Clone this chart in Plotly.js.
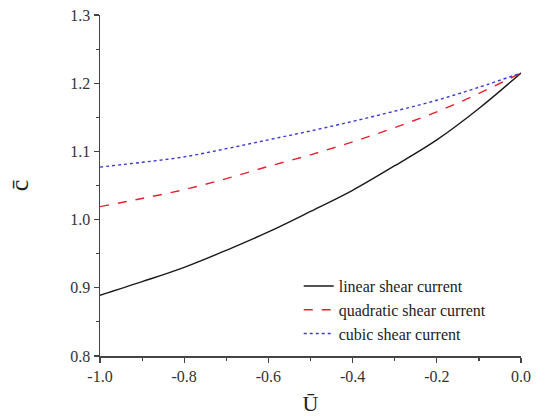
<!DOCTYPE html>
<html>
<head>
<meta charset="utf-8">
<script src="https://cdn.plot.ly/plotly-3.0.1.min.js"></script>
<style>html,body{margin:0;padding:0;background:#fff;}</style>
</head>
<body>
<div id="chart" style="width:545px;height:416px;"></div>
<script>
const U = [-1.0, -0.9, -0.8, -0.7, -0.6, -0.5, -0.4, -0.3, -0.2, -0.1, 0.0];
const linearC    = [0.889, 0.909, 0.930, 0.955, 0.982, 1.012, 1.043, 1.079, 1.117, 1.163, 1.215];
const quadraticC = [1.019, 1.031, 1.044, 1.060, 1.078, 1.095, 1.114, 1.135, 1.158, 1.185, 1.215];
const cubicC     = [1.077, 1.084, 1.092, 1.104, 1.117, 1.130, 1.144, 1.159, 1.175, 1.194, 1.215];
const seriesNames = ['linear shear current', 'quadratic shear current', 'cubic shear current'];
const xTickVals = [-1.0, -0.8, -0.6, -0.4, -0.2, 0.0];
const xTickText = ['-1.0', '-0.8', '-0.6', '-0.4', '-0.2', '0.0'];
const yTickVals = [0.8, 0.9, 1.0, 1.1, 1.2, 1.3];
const yTickText = ['0.8', '0.9', '1.0', '1.1', '1.2', '1.3'];

const font = 'Liberation Serif, Times New Roman, serif';
const traces = [
  {x: U, y: linearC, name: seriesNames[0], legendgroup: 'a', mode: 'lines',
   line: {color: '#1a1a1a', width: 1.4, shape: 'spline'}},
  {x: U, y: quadraticC, name: seriesNames[1], legendgroup: 'b', mode: 'lines',
   line: {color: '#e8202e', width: 1.4, dash: 'dash', shape: 'spline'}},
  {x: U, y: cubicC, name: seriesNames[2], legendgroup: 'c', mode: 'lines',
   line: {color: '#3a3ad8', width: 1.4, dash: 'dot', shape: 'spline'}}
];
function axis(extra) {
  return Object.assign({
    showgrid: false, zeroline: false, showline: true, linecolor: '#444', linewidth: 1.5,
    ticks: 'outside', ticklen: 5, tickwidth: 1.3, tickcolor: '#444',
    tickfont: {family: font, size: 16, color: '#333'}
  }, extra);
}
const layout = {
  width: 545, height: 416,
  margin: {l: 100, r: 24, t: 15, b: 60},
  font: {family: font, size: 16, color: '#333'},
  paper_bgcolor: '#fff', plot_bgcolor: '#fff',
  showlegend: true,
  legend: {x: 0.472, y: 0.255, xanchor: 'left', yanchor: 'top',
           font: {family: font, size: 16, color: '#222'},
           bgcolor: 'rgba(0,0,0,0)', traceorder: 'grouped', tracegroupgap: 0},
  xaxis: axis({
    range: [-1.0, 0.0], tickvals: xTickVals, ticktext: xTickText,
    minor: {ticks: 'outside', ticklen: 3, tickwidth: 1.2, tickcolor: '#444', dtick: 0.1, showgrid: false},
    title: {text: 'Ū', font: {family: font, size: 22, color: '#222'}, standoff: 17}
  }),
  yaxis: axis({
    range: [0.8, 1.3], tickvals: yTickVals, ticktext: yTickText,
    minor: {ticks: 'outside', ticklen: 3, tickwidth: 1.2, tickcolor: '#444', dtick: 0.05, showgrid: false},
    title: {text: 'c\u0304', font: {family: font, size: 26, color: '#222'}, standoff: 34}
  })
};
Plotly.newPlot('chart', traces, layout, {displayModeBar: false, staticPlot: true});
</script>
</body>
</html>
